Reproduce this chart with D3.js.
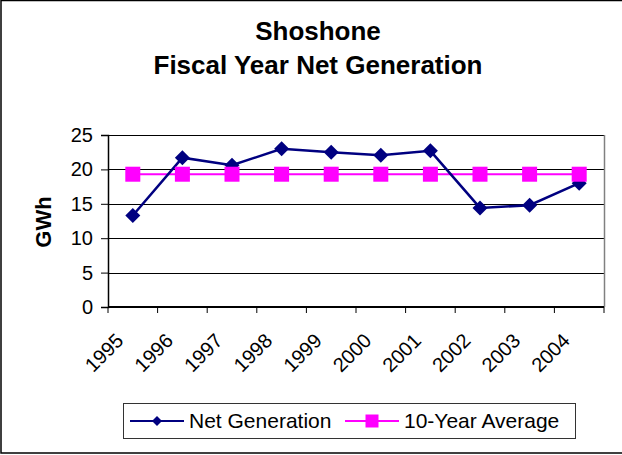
<!DOCTYPE html>
<html>
<head>
<meta charset="utf-8">
<script src="https://cdn.jsdelivr.net/npm/d3@7"></script>
<style>
	body { margin: 0; background: #fff; }
	svg { display: block; font-family: Arial, "Liberation Sans", sans-serif; }
</style>
</head>
<body>
<script>
var width = 622,
	height = 455;

// Chart data
var years = ["1995","1996","1997","1998","1999","2000","2001","2002","2003","2004"];
var netGeneration = [13.3, 21.7, 20.6, 23.0, 22.5, 22.05, 22.7, 14.4, 14.8, 18.0];
var tenYearAverage = [19.3, 19.3, 19.3, 19.3, 19.3, 19.3, 19.3, 19.3, 19.3, 19.3];
var yTicks = [0, 5, 10, 15, 20, 25];
var titleLines = ["Shoshone", "Fiscal Year Net Generation"];

var plot = { left: 108, right: 604, top: 135, bottom: 307 };

var svg = d3.select("body").append("svg")
	.attr("width", width)
	.attr("height", height);

// Outer chart border (right edge falls outside the picture)
svg.append("rect")
	.attr("x", 1).attr("y", 0.5)
	.attr("width", width + 10).attr("height", height - 2.5)
	.attr("fill", "#fff")
	.attr("stroke", "#000")
	.attr("stroke-width", 1.5);

// Title
svg.selectAll("text.title")
	.data(titleLines)
	.enter().append("text")
	.attr("class", "title")
	.attr("x", 318)
	.attr("y", function(d, i) { return 40 + i * 34; })
	.attr("text-anchor", "middle")
	.style("font-size", "26px")
	.style("font-weight", "bold")
	.text(function(d) { return d; });

var x = d3.scaleBand()
	.domain(years)
	.range([plot.left, plot.right])
	.padding(0);

var y = d3.scaleLinear()
	.domain([0, 25])
	.range([plot.bottom, plot.top]);

function cx(d, i) { return x(years[i]) + x.bandwidth() / 2; }

// Gridlines
svg.append("g")
	.selectAll("line")
	.data(yTicks)
	.enter().append("line")
	.attr("x1", plot.left).attr("x2", plot.right)
	.attr("y1", function(d) { return Math.round(y(d)) + 0.5; })
	.attr("y2", function(d) { return Math.round(y(d)) + 0.5; })
	.attr("stroke", "#000")
	.attr("stroke-width", 1);

// Plot area right edge
svg.append("line")
	.attr("x1", plot.right + 0.5).attr("x2", plot.right + 0.5)
	.attr("y1", plot.top).attr("y2", plot.bottom)
	.attr("stroke", "#808080")
	.attr("stroke-width", 1.5);

// Y axis
var yAxis = svg.append("g")
	.attr("transform", "translate(" + plot.left + ",0)")
	.call(d3.axisLeft(y).tickValues(yTicks).tickSize(7).tickPadding(8));
yAxis.select(".domain").attr("stroke", "#000").attr("stroke-width", 1.5);
yAxis.selectAll(".tick line").attr("stroke", "#000");
yAxis.selectAll(".tick text")
	.attr("fill", "#000")
	.style("font-size", "20px")
	.style("font-family", "Arial, 'Liberation Sans', sans-serif");

// X axis: ticks at category boundaries, labels at centers
var xAxis = svg.append("g")
	.attr("transform", "translate(0," + plot.bottom + ")");
xAxis.append("line")
	.attr("x1", plot.left).attr("x2", plot.right)
	.attr("stroke", "#000")
	.attr("stroke-width", 2);
xAxis.selectAll("line.tick")
	.data(years.concat(["end"]))
	.enter().append("line")
	.attr("class", "tick")
	.attr("x1", function(d) { return d === "end" ? plot.right : x(d); })
	.attr("x2", function(d) { return d === "end" ? plot.right : x(d); })
	.attr("y1", 0).attr("y2", 6)
	.attr("stroke", "#000");
xAxis.selectAll("text")
	.data(years)
	.enter().append("text")
	.attr("transform", function(d, i) {
		return "translate(" + (cx(d, i) - 18) + ",25) rotate(-45)";
	})
	.attr("text-anchor", "end")
	.attr("dy", "0.7em")
	.style("font-size", "20px")
	.text(function(d) { return d; });

// Y axis title
svg.append("text")
	.attr("transform", "translate(51,222) rotate(-90)")
	.attr("text-anchor", "middle")
	.style("font-size", "22px")
	.style("font-weight", "bold")
	.text("GWh");

var line = d3.line()
	.x(cx)
	.y(function(d) { return y(d); });

// 10-year average
svg.append("path")
	.datum(tenYearAverage)
	.attr("d", line)
	.attr("fill", "none")
	.attr("stroke", "#ff00ff")
	.attr("stroke-width", 2);

// Net generation
svg.append("path")
	.datum(netGeneration)
	.attr("d", line)
	.attr("fill", "none")
	.attr("stroke", "#000080")
	.attr("stroke-width", 2.5);

svg.selectAll("path.net")
	.data(netGeneration)
	.enter().append("path")
	.attr("class", "net")
	.attr("d", "M0,-7.5L7.5,0L0,7.5L-7.5,0Z")
	.attr("transform", function(d, i) { return "translate(" + cx(d, i) + "," + y(d) + ")"; })
	.attr("fill", "#000080");

svg.selectAll("rect.avg")
	.data(tenYearAverage)
	.enter().append("rect")
	.attr("class", "avg")
	.attr("x", function(d, i) { return cx(d, i) - 7.5; })
	.attr("y", function(d) { return y(d) - 7.5; })
	.attr("width", 15).attr("height", 15)
	.attr("fill", "#ff00ff");

// Legend
var legend = svg.append("g").attr("transform", "translate(123,403)");
legend.append("rect")
	.attr("x", 0.5).attr("y", 0.5)
	.attr("width", 452).attr("height", 35)
	.attr("fill", "#fff")
	.attr("stroke", "#333")
	.attr("stroke-width", 1);

var legendItems = [
	{ name: "Net Generation", color: "#000080", x: 7, marker: "diamond" },
	{ name: "10-Year Average", color: "#ff00ff", x: 222, marker: "square" }
];
var items = legend.selectAll("g.item")
	.data(legendItems)
	.enter().append("g")
	.attr("class", "item")
	.attr("transform", function(d) { return "translate(" + d.x + ",18)"; });
items.append("line")
	.attr("x1", 0).attr("x2", 54)
	.attr("stroke", function(d) { return d.color; })
	.attr("stroke-width", 2);
items.append("path")
	.attr("d", function(d) {
		return d.marker === "diamond" ? "M0,-5L5,0L0,5L-5,0Z" : "M-6.5,-6.5H6.5V6.5H-6.5Z";
	})
	.attr("transform", "translate(27,0)")
	.attr("fill", function(d) { return d.color; });
items.append("text")
	.attr("x", 59)
	.attr("dy", "0.35em")
	.style("font-size", "21px")
	.text(function(d) { return d.name; });
</script>
</body>
</html>
